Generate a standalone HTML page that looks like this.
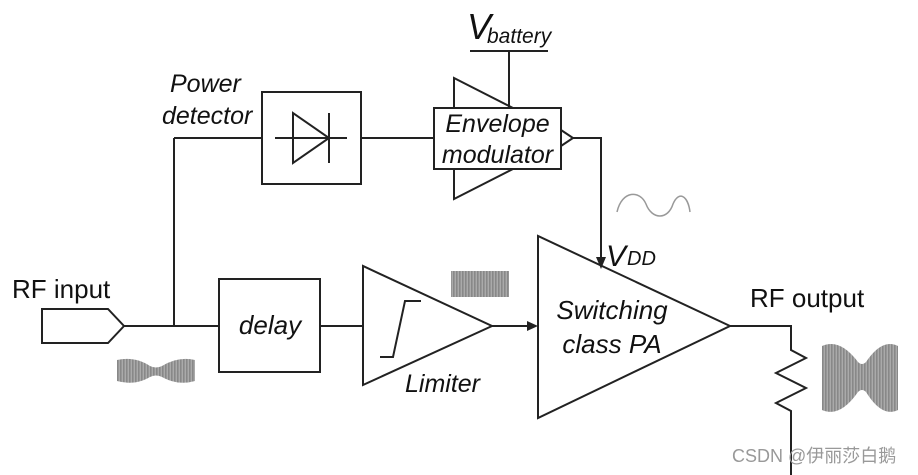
<!DOCTYPE html>
<html><head><meta charset="utf-8"><style>
html,body{margin:0;padding:0;background:#fff;width:918px;height:475px;overflow:hidden}
svg{display:block}
text{font-family:"Liberation Sans",Arial,sans-serif;fill:#111}
</style></head><body>
<svg width="918" height="475" viewBox="0 0 918 475" xmlns="http://www.w3.org/2000/svg">
<defs>
<pattern id="vl" width="3" height="10" patternUnits="userSpaceOnUse"><rect width="3" height="10" fill="#aaa"/><rect width="1.6" height="10" fill="#888"/></pattern>
</defs>
<g stroke="#222" stroke-width="2" fill="none">
<rect x="262" y="92" width="99" height="92"/>
<line x1="275" y1="138" x2="347" y2="138"/>
<polygon points="293,113 293,163 329,138"/>
<line x1="329" y1="113" x2="329" y2="163"/>
<line x1="361" y1="138" x2="434" y2="138"/>
<line x1="262" y1="138" x2="174" y2="138"/>
<line x1="174" y1="138" x2="174" y2="326"/>
<polyline points="454,108 454,78 513,108"/>
<polyline points="454,169 454,199 513,169"/>
<rect x="434" y="108" width="127" height="61" fill="#fff"/>
<polyline points="561,130 573,138 561,146"/>
<polyline points="573,138 601,138 601,260"/>
<line x1="509" y1="51" x2="509" y2="108"/>
<line x1="470" y1="51" x2="548" y2="51"/>
<polygon points="42,309 108,309 124,326 108,343 42,343"/>
<line x1="124" y1="326" x2="219" y2="326"/>
<rect x="219" y="279" width="101" height="93"/>
<line x1="320" y1="326" x2="363" y2="326"/>
<polygon points="363,266 363,385 492,326"/>
<polyline points="380,357 393,357 405,301 421,301"/>
<line x1="492" y1="326" x2="528" y2="326"/>
<polygon points="538,236 538,418 730,326"/>
<polyline points="730,326 791,326 791,350 806,358 776,373 806,388 776,403 791,411 791,475"/>
</g>
<polygon points="538,326 527,321 527,331" fill="#222"/>
<polygon points="601,269 596,257 606,257" fill="#222"/>
<rect x="451" y="271" width="58" height="26" fill="url(#vl)"/>
<path d="M117,360 Q135,356 150,366 Q156,369 162,366 Q178,356 195,360 L195,381 Q178,386 162,377 Q156,374 150,377 Q135,386 117,381Z" fill="url(#vl)"/>
<path d="M822,346 Q840,338 858,362 Q862,366 866,362 Q882,338 898,346 L898,410 Q882,418 866,392 Q862,388 858,392 Q840,418 822,410Z" fill="url(#vl)"/>
<path d="M617,212 C622,190 640,190 646,204 C652,220 668,220 673,204 C679,190 688,196 690,212" stroke="#999" stroke-width="1.5" fill="none"/>
<text x="467" y="39" font-size="36" font-style="italic">V</text>
<text x="487" y="43" font-size="21" font-style="italic">battery</text>
<text x="170" y="92" font-size="25" font-style="italic">Power</text>
<text x="162" y="124" font-size="25" font-style="italic">detector</text>
<text x="497.5" y="132" font-size="25" font-style="italic" text-anchor="middle">Envelope</text>
<text x="497.5" y="163" font-size="25" font-style="italic" text-anchor="middle">modulator</text>
<text x="12" y="298" font-size="26">RF input</text>
<text x="270" y="334" font-size="26" font-style="italic" text-anchor="middle">delay</text>
<text x="405" y="392" font-size="25" font-style="italic">Limiter</text>
<text x="606" y="266" font-size="30" font-style="italic">V</text>
<text x="627" y="265" font-size="20" font-style="italic">DD</text>
<text x="612" y="319" font-size="26" font-style="italic" text-anchor="middle">Switching</text>
<text x="612" y="353" font-size="26" font-style="italic" text-anchor="middle">class PA</text>
<text x="750" y="307" font-size="26">RF output</text>
<text x="732" y="462" font-size="18" style="fill:#999;font-family:'Liberation Sans','Noto Sans CJK SC',sans-serif">CSDN @伊丽莎白鹅</text>
</svg>
</body></html>
